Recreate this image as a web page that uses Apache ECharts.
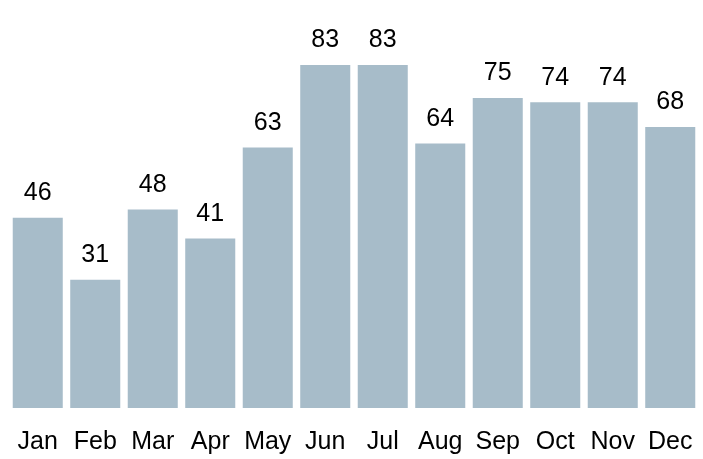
<!DOCTYPE html>
<html><head><meta charset="utf-8">
<script src="https://cdn.jsdelivr.net/npm/echarts@6/dist/echarts.min.js"></script>
<style>html,body{margin:0;padding:0;background:#fff}#c{width:703px;height:459px}</style>
</head><body><div id="c"></div>
<script>
const months = ['Jan','Feb','Mar','Apr','May','Jun','Jul','Aug','Sep','Oct','Nov','Dec'];
const values = [46,31,48,41,63,83,83,64,75,74,74,68];
const chart = echarts.init(document.getElementById('c'), null, {renderer:'canvas'});
chart.setOption({
  animation:false,
  grid:{left:9,right:4,top:36,bottom:51},
  xAxis:{type:'category',data:months,axisLine:{show:false},axisTick:{show:false},
    axisLabel:{interval:0,hideOverlap:false,fontFamily:'Liberation Sans, Arial, sans-serif',fontSize:25,color:'#000',margin:22}},
  yAxis:{type:'value',min:0,max:90,show:false,splitLine:{show:false}},
  series:[{type:'bar',data:values,barCategoryGap:'13%',itemStyle:{color:'#a7bcc9'},
    label:{show:true,position:'top',distance:12,fontFamily:'Liberation Sans, Arial, sans-serif',fontSize:25,color:'#000'}}]
});
</script></body></html>
